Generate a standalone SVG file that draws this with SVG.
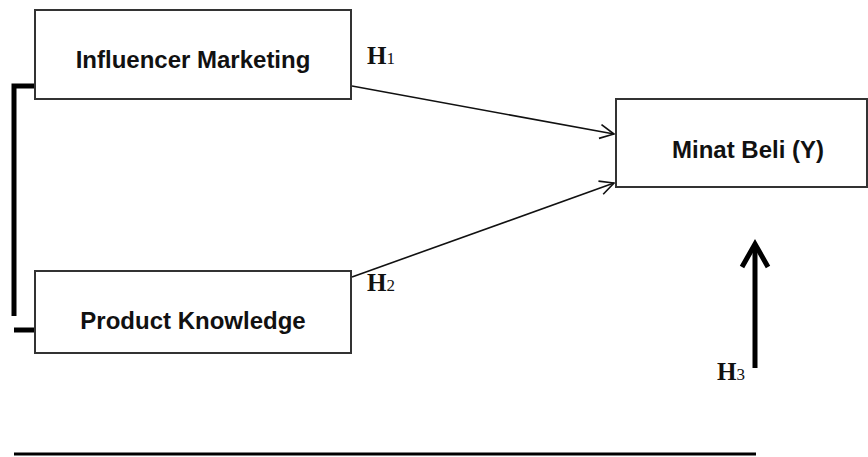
<svg xmlns="http://www.w3.org/2000/svg" width="868" height="457" viewBox="0 0 868 457">
<style>
.box{fill:#fff;stroke:#333;stroke-width:2}
.lbl{font-family:"Liberation Sans",Arial,sans-serif;font-weight:bold;font-size:24px;fill:#111;text-anchor:middle}
.h{font-family:"Liberation Serif","Times New Roman",serif;font-weight:bold;font-size:25px;fill:#111}
.sub{font-size:17px;font-weight:normal}
.thin{stroke:#111;stroke-width:1.6;fill:none}
.thick{stroke:#000;stroke-width:5;fill:none}
</style>
<defs>
<marker id="open" markerWidth="20" markerHeight="20" refX="15" refY="8" orient="auto" markerUnits="userSpaceOnUse">
<path d="M1,1 L15,8 L1,15" fill="none" stroke="#111" stroke-width="1.6"/>
</marker>
</defs>
<rect width="868" height="457" fill="#fff"/>
<g id="connectors">
<polyline class="thick" points="35,86 14,86 14,316"/>
<line class="thick" x1="14" y1="330" x2="35" y2="330"/>
<line class="thin" x1="352" y1="86" x2="614" y2="134" marker-end="url(#open)"/>
<line class="thin" x1="352" y1="277" x2="614" y2="183" marker-end="url(#open)"/>
<line x1="755" y1="368" x2="755" y2="246" stroke="#000" stroke-width="5"/>
<polyline points="742,267 755,244 768,267" fill="none" stroke="#000" stroke-width="5" stroke-linejoin="miter"/>
</g>
<g id="node-influencer">
<rect class="box" x="35" y="10" width="316" height="89"/>
<text class="lbl" x="193" y="68">Influencer Marketing</text>
</g>
<g id="node-product">
<rect class="box" x="35" y="271" width="316" height="82"/>
<text class="lbl" x="193" y="329">Product Knowledge</text>
</g>
<g id="node-minat">
<rect class="box" x="616" y="99" width="251" height="88"/>
<text class="lbl" x="748" y="158">Minat Beli (Y)</text>
</g>
<g id="labels">
<text class="h" x="367" y="64">H<tspan class="sub">1</tspan></text>
<text class="h" x="367" y="291">H<tspan class="sub">2</tspan></text>
<text class="h" x="717" y="380">H<tspan class="sub">3</tspan></text>
</g>
<line x1="14" y1="454" x2="756" y2="454" stroke="#000" stroke-width="3"/>
</svg>
